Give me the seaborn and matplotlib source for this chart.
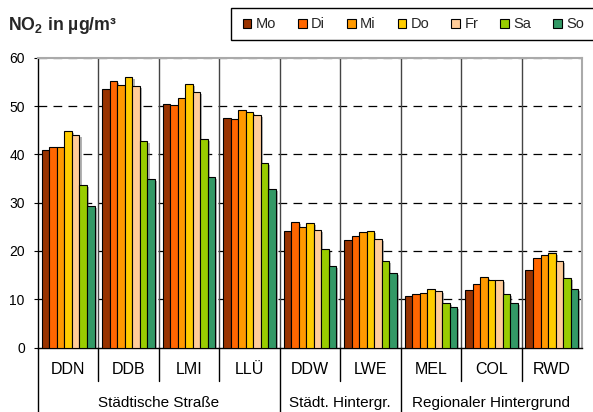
import matplotlib
matplotlib.use("Agg")
import matplotlib.pyplot as plt
import matplotlib.patheffects as pe
from matplotlib.patches import Patch, Rectangle
import seaborn as sns
import pandas as pd

# ---- data ----
stations = ["DDN", "DDB", "LMI", "LLÜ", "DDW", "LWE", "MEL", "COL", "RWD"]
days = ["Mo", "Di", "Mi", "Do", "Fr", "Sa", "So"]
mo = [40.9, 53.5, 50.5, 47.6, 24.2, 22.3, 10.7, 11.9, 16.1]
di = [41.6, 55.2, 50.2, 47.4, 26.0, 23.1, 11.0, 13.2, 18.5]
mi = [41.6, 54.3, 51.6, 49.1, 25.0, 24.0, 11.3, 14.6, 19.1]
do_ = [44.9, 56.0, 54.5, 48.8, 25.8, 24.2, 12.2, 14.0, 19.5]
fr = [44.0, 54.1, 52.9, 48.2, 24.4, 22.5, 11.8, 14.0, 18.0]
sa = [33.7, 42.7, 43.1, 38.2, 20.3, 17.9, 9.3, 11.1, 14.4]
so = [29.3, 34.8, 35.3, 32.9, 16.9, 15.4, 8.3, 9.3, 12.2]
groups = ["Städtische Straße", "Städt. Hintergr.", "Regionaler Hintergrund"]
group_sizes = [4, 2, 3]
yticks = [0, 10, 20, 30, 40, 50, 60]
colors = ["#993300", "#FF6600", "#FF9900", "#FFCC00", "#FFCC99", "#99CC00", "#339966"]

series = [mo, di, mi, do_, fr, sa, so]
rows = []
for d, vals in zip(days, series):
    for s, v in zip(stations, vals):
        rows.append({"Station": s, "Tag": d, "NO2": v})
df = pd.DataFrame(rows)

sns.set_theme(style="white")
plt.rcParams["font.family"] = ["Liberation Sans", "DejaVu Sans"]
plt.rcParams["mathtext.fontset"] = "custom"
plt.rcParams["mathtext.rm"] = "Liberation Sans"
plt.rcParams["mathtext.bf"] = "Liberation Sans:bold"

W, H = 593, 412
fig = plt.figure(figsize=(W / 100, H / 100), dpi=100)
ax_l, ax_r, ax_t, ax_b = 38, 582, 57.7, 347.5
ax = fig.add_axes([ax_l / W, 1 - ax_b / H, (ax_r - ax_l) / W, (ax_b - ax_t) / H])

sns.barplot(data=df, x="Station", y="NO2", hue="Tag", order=stations, hue_order=days,
            palette=colors, width=0.87, gap=0, edgecolor="black", linewidth=0.8,
            saturation=1, legend=False, ax=ax, zorder=3)

shadow = [pe.SimplePatchShadow(offset=(1.5, -1.5), shadow_rgbFace="#555555", alpha=0.45), pe.Normal()]
for p in ax.patches:
    p.set_path_effects(shadow)

ax.set_xlim(-0.5, len(stations) - 0.5)
ax.set_ylim(0, 60)
ax.set_yticks(yticks)
ax.set_xlabel("")
ax.set_ylabel("")

# grid lines
for y in yticks[1:-1]:
    ax.axhline(y, color="black", lw=0.9, ls=(0, (7, 5)), zorder=1)
ax.axhline(60, color="#555555", lw=0.9, ls=(0, (7, 5)), zorder=2)
for x in range(len(stations) - 1):
    ax.axvline(x + 0.5, color="#444444", lw=1.0, zorder=1)

for side in ["top", "right"]:
    ax.spines[side].set_color("#aaaaaa")
    ax.spines[side].set_linewidth(1.5)
for side in ["left", "bottom"]:
    ax.spines[side].set_color("black")
    ax.spines[side].set_linewidth(1.0)

ax.tick_params(axis="y", which="both", left=True, length=3, width=0.8, pad=6.5,
               labelsize=10, colors="black")
ax.tick_params(axis="x", length=0, pad=10.5, labelsize=11.5, labelcolor="black")

# separators below the axis
trans = ax.get_xaxis_transform()
group_bounds = [-0.5]
acc = -0.5
for n in group_sizes:
    acc += n
    group_bounds.append(acc)
for i in range(len(stations) - 1):
    b = i + 0.5
    if b in group_bounds:
        continue
    ax.plot([b, b], [0, -33.2 / (ax_b - ax_t)], color="black", lw=1.0,
            transform=trans, clip_on=False)
for b in group_bounds[:-1]:
    ax.plot([b, b], [0, -(H - ax_b) / (ax_b - ax_t)], color="black", lw=1.0,
            transform=trans, clip_on=False)

start = -0.5
for g, n in zip(groups, group_sizes):
    ax.text(start + n / 2, -(406.7 - ax_b) / (ax_b - ax_t), g, transform=trans,
            ha="center", va="baseline", fontsize=11, color="black")
    start += n

# title
fig.text(8 / W, 1 - 25 / H, r"$\mathbf{NO_2}$ in µg/m³", fontsize=12.8,
         fontweight="bold", ha="left", va="center")

# legend (frame drawn separately, runs off the right edge as in the reference)
fig.patches.append(Rectangle((230.7 / W, 1 - 40 / H), (W + 10 - 230.7) / W, 32.3 / H,
                             transform=fig.transFigure, facecolor="white",
                             edgecolor="black", linewidth=1.0, zorder=0))
handles = [Patch(facecolor=c, edgecolor="black", linewidth=0.8, label=d)
           for c, d in zip(colors, days)]
leg = fig.legend(handles=handles, loc="center left", bbox_to_anchor=(242.5 / W, 1 - 24.5 / H),
                 ncol=7, frameon=False, fontsize=10.5, handlelength=0.6, handleheight=0.6,
                 handletextpad=0.3, columnspacing=1.5, borderpad=0, borderaxespad=0)

fig.savefig("out.png", dpi=100)
